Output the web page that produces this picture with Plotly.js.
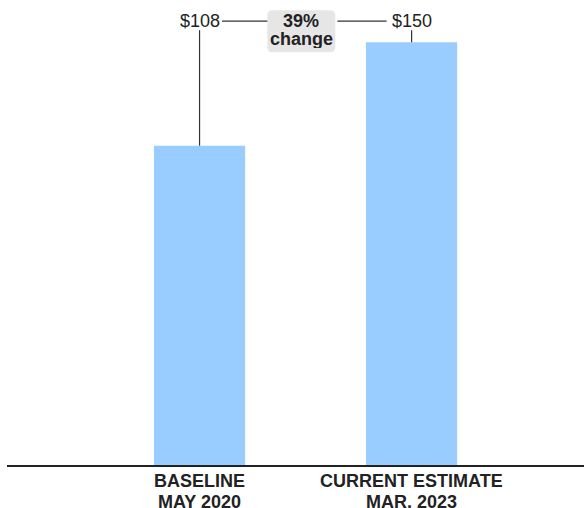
<!DOCTYPE html>
<html>
<head>
<meta charset="utf-8">
<script src="https://cdn.plot.ly/plotly-3.0.1.min.js"></script>
<style>
  html, body { margin: 0; padding: 0; background: #fff; }
  #chart { width: 584px; height: 508px; }
</style>
</head>
<body>
<div id="chart"></div>
<script>
// ---- data ----
const categories = ['BASELINE', 'CURRENT ESTIMATE'];
const subLabels = ['MAY 2020', 'MAR. 2023'];
const values = [108, 150];
const valueLabels = ['$108', '$150'];
const changeLabel = ['39%', 'change'];

// ---- layout constants ----
const AXIS_FLOOR = -21.7;      // value at the axis line
const Y_TOP = 167.2;
const X_RANGE = [-0.908, 1.813];
const PX_PER_X = 212, PX_PER_Y = 2.462;
const LABEL_Y = 158.6;         // label row (data units)
const FONT = 'Liberation Sans, Arial, Helvetica, sans-serif';
const INK = '#222222';
const LINE = '#333333';

const dx = px => px / PX_PER_X;
const dy = px => px / PX_PER_Y;

// bars drawn from the axis floor
const bars = {
  type: 'bar',
  x: categories,
  y: values.map(v => v - AXIS_FLOOR),
  base: AXIS_FLOOR,
  width: 0.43,
  marker: { color: '#99ccff', line: { width: 0 } },
  hoverinfo: 'skip'
};

const boxCx = 0.48, boxHalfW = dx(34), boxTop = LABEL_Y + dy(11), boxBot = LABEL_Y - dy(31);
const rx = dx(5), ry = dy(5);
const boxPath = `M ${boxCx - boxHalfW + rx},${boxTop} L ${boxCx + boxHalfW - rx},${boxTop} ` +
  `Q ${boxCx + boxHalfW},${boxTop} ${boxCx + boxHalfW},${boxTop - ry} ` +
  `L ${boxCx + boxHalfW},${boxBot + ry} Q ${boxCx + boxHalfW},${boxBot} ${boxCx + boxHalfW - rx},${boxBot} ` +
  `L ${boxCx - boxHalfW + rx},${boxBot} Q ${boxCx - boxHalfW},${boxBot} ${boxCx - boxHalfW},${boxBot + ry} ` +
  `L ${boxCx - boxHalfW},${boxTop - ry} Q ${boxCx - boxHalfW},${boxTop} ${boxCx - boxHalfW + rx},${boxTop} Z`;

const shapes = [
  { type: 'path', xref: 'x', yref: 'y', path: boxPath, fillcolor: '#e6e6e6', line: { width: 0 }, layer: 'below' },
  // vertical connectors
  { type: 'line', xref: 'x', yref: 'y', x0: 0, x1: 0, y0: values[0], y1: LABEL_Y - dy(9), line: { color: LINE, width: 1.2 } },
  { type: 'line', xref: 'x', yref: 'y', x0: 1, x1: 1, y0: values[1], y1: LABEL_Y - dy(9), line: { color: LINE, width: 1.2 } },
  // horizontal connectors
  { type: 'line', xref: 'x', yref: 'y', x0: dx(22.5), x1: boxCx - boxHalfW, y0: LABEL_Y, y1: LABEL_Y, line: { color: LINE, width: 1.2 } },
  { type: 'line', xref: 'x', yref: 'y', x0: boxCx + boxHalfW + dx(2), x1: 1 - dx(25), y0: LABEL_Y, y1: LABEL_Y, line: { color: LINE, width: 1.2 } }
];

const txt = (extra) => Object.assign({
  showarrow: false, xanchor: 'center', yanchor: 'middle', borderpad: 0,
  font: { family: FONT, size: 18, color: INK }
}, extra);

const annotations = [
  txt({ x: 0, y: LABEL_Y, xref: 'x', yref: 'y', text: valueLabels[0] }),
  txt({ x: 1, y: LABEL_Y, xref: 'x', yref: 'y', text: valueLabels[1] }),
  txt({ x: boxCx, y: LABEL_Y, xref: 'x', yref: 'y', text: '<b>' + changeLabel[0] + '</b>', height: 18 }),
  txt({ x: boxCx, y: LABEL_Y - dy(18), xref: 'x', yref: 'y', text: '<b>' + changeLabel[1] + '</b>', height: 18 })
];
categories.forEach((c, i) => {
  annotations.push(txt({ x: i, y: 0, xref: 'x', yref: 'paper', yshift: -15.5, text: '<b>' + c + '</b>', height: 20 }));
  annotations.push(txt({ x: i, y: 0, xref: 'x', yref: 'paper', yshift: -36.5, text: '<b>' + subLabels[i] + '</b>', height: 20 }));
});

const layout = {
  width: 584, height: 508,
  margin: { l: 7, r: 0, t: 0, b: 43 },
  paper_bgcolor: '#ffffff', plot_bgcolor: '#ffffff',
  showlegend: false,
  font: { family: FONT, color: INK },
  xaxis: {
    type: 'category', range: X_RANGE, showgrid: false, zeroline: false,
    showline: true, linecolor: INK, linewidth: 1.5, ticks: '', showticklabels: false,
    fixedrange: true
  },
  yaxis: {
    range: [AXIS_FLOOR, Y_TOP], visible: false, showgrid: false, zeroline: false, fixedrange: true
  },
  shapes: shapes,
  annotations: annotations
};

Plotly.newPlot('chart', [bars], layout, { displayModeBar: false, staticPlot: true });
</script>
</body>
</html>
